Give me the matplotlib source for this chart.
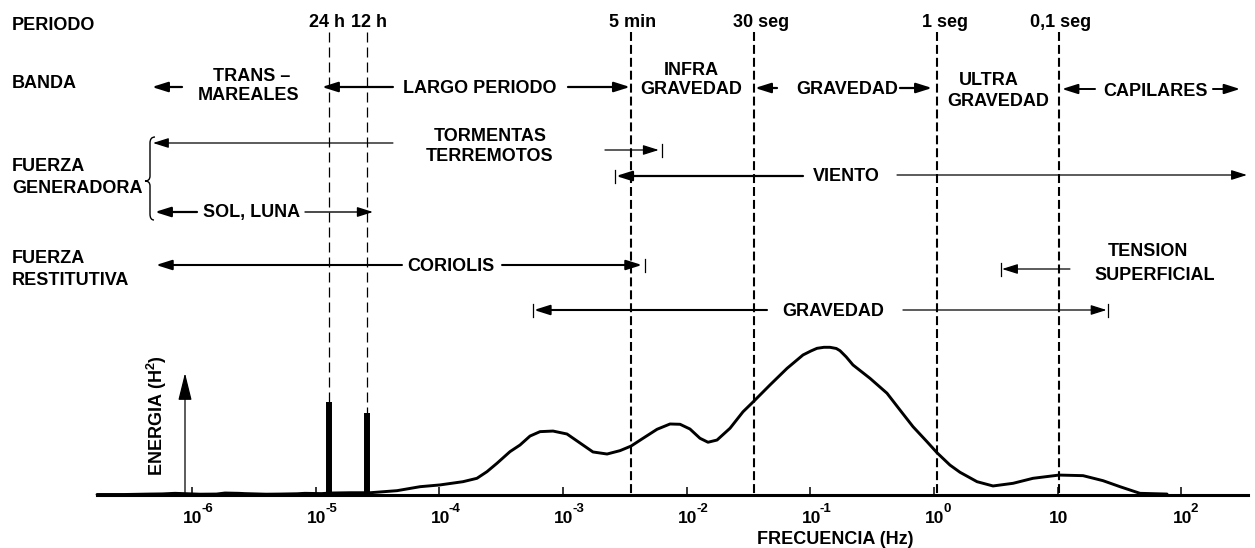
import numpy as np
import matplotlib
matplotlib.use("Agg")
import matplotlib.pyplot as plt
from matplotlib.patches import FancyArrowPatch, PathPatch
from matplotlib.path import Path
from matplotlib.ticker import NullLocator

plt.rcParams['font.family'] = ['Liberation Sans', 'DejaVu Sans']
plt.rcParams['font.weight'] = 'bold'
plt.rcParams['mathtext.fontset'] = 'custom'
plt.rcParams['mathtext.rm'] = 'Liberation Sans:bold'
plt.rcParams['mathtext.bf'] = 'Liberation Sans:bold'
plt.rcParams['mathtext.it'] = 'Liberation Sans:bold'
plt.rcParams['mathtext.default'] = 'rm'

# ---------------- datos ----------------
# periodos de referencia (lineas verticales) y su frecuencia en Hz
periodos = ["24 h", "12 h", "5 min", "30 seg", "1 seg", "0,1 seg"]
f_periodos = [1.28e-5, 2.62e-5, 3.55e-3, 3.5e-2, 1.06, 10.2]

# espectro de energia: log10 de la frecuencia (Hz) y energia relativa
log_f_espectro = [-6.766, -6.54, -6.338, -6.24, -6.136, -6.0, -5.934, -5.80,
                  -5.732, -5.62, -5.57, -5.40, -5.287, -5.15, -5.085, -4.95,
                  -4.883, -4.72, -4.559, -4.341, -4.155, -3.994, -3.808,
                  -3.695, -3.614, -3.533, -3.428, -3.347, -3.266, -3.185,
                  -3.080, -2.967, -2.862, -2.757, -2.643, -2.538, -2.449,
                  -2.352, -2.239, -2.134, -2.053, -1.973, -1.892, -1.827,
                  -1.754, -1.649, -1.544, -1.455, -1.326, -1.188, -1.059,
                  -0.995, -0.946, -0.890, -0.841, -0.790, -0.760, -0.710,
                  -0.655, -0.517, -0.380, -0.275, -0.170, -0.057, 0.024,
                  0.129, 0.210, 0.348, 0.477, 0.639, 0.800, 1.011, 1.205,
                  1.366, 1.504, 1.665, 1.884]
energia_espectro = [0.0, 0.0, 0.003, 0.004, 0.008, 0.004, 0.002, 0.003,
                    0.010, 0.008, 0.006, 0.002, 0.003, 0.005, 0.008, 0.006,
                    0.010, 0.012, 0.012, 0.026, 0.053, 0.065, 0.087, 0.110,
                    0.155, 0.212, 0.291, 0.336, 0.397, 0.427, 0.431, 0.411,
                    0.350, 0.289, 0.275, 0.298, 0.329, 0.382, 0.443, 0.479,
                    0.477, 0.445, 0.382, 0.355, 0.370, 0.450, 0.562, 0.635,
                    0.744, 0.857, 0.948, 0.975, 0.993, 1.000, 1.000, 0.992,
                    0.977, 0.935, 0.880, 0.789, 0.688, 0.574, 0.461, 0.359,
                    0.284, 0.200, 0.151, 0.087, 0.058, 0.076, 0.110, 0.132,
                    0.128, 0.094, 0.053, 0.008, 0.003]

# lineas de marea diurna y semidiurna
f_mareas = [1.28e-5, 2.62e-5]
energia_mareas = [0.628, 0.554]

# eje de frecuencias: potencias de diez y su exponente escrito
ticks_exp = [-6, -5, -4, -3, -2, -1, 0, 1, 2]
ticks_exponente = ["-6", "-5", "-4", "-3", "-2", "-1", "0", "", "2"]

# ---------------- figura ----------------
W, H = 1255, 548
fig = plt.figure(figsize=(W / 100, H / 100), dpi=100)
fig.patch.set_facecolor('white')

XLIM = (10 ** -7.5506, 10 ** 2.595)
BASE = 494.5          # fila de la linea base
ESC = 147.2           # pixeles por unidad de energia

# capa de anotaciones: x logaritmico, y en filas
ax = fig.add_axes([0, 0, 1, 1])
ax.set_xscale('log')
ax.set_xlim(XLIM)
ax.set_ylim(H, 0)
ax.axis('off')

# capa de maquetacion en pixeles
lay = fig.add_axes([0, 0, 1, 1])
lay.set_xlim(0, W)
lay.set_ylim(H, 0)
lay.axis('off')

# espectro
sp = fig.add_axes([0, (H - BASE) / H, 1, (BASE - 340) / H], sharex=ax)
sp.set_facecolor('none')
sp.set_ylim(0, (BASE - 340) / ESC)
for s in ('top', 'right', 'left'):
    sp.spines[s].set_visible(False)
sp.spines['bottom'].set_linewidth(2.2)
sp.spines['bottom'].set_bounds(10 ** -6.766, 10 ** 2.538)
sp.set_xticks([10.0 ** e for e in ticks_exp])
sp.xaxis.set_minor_locator(NullLocator())
sp.tick_params(axis='x', direction='in', length=5.8, width=1.1,
               labelbottom=False)
sp.set_yticks([])

F = lambda l: 10.0 ** l
TXT = dict(fontsize=13, fontweight='bold', color='k')


def flecha(y, l_cola, l_punta, lw=1.4):
    ax.add_patch(FancyArrowPatch((F(l_cola), y), (F(l_punta), y),
                                 arrowstyle='-|>,head_length=0.95,head_width=0.3',
                                 mutation_scale=10, lw=lw, color='k',
                                 shrinkA=0, shrinkB=0, zorder=3))


def tope(y, l, h=6.5):
    ax.plot([F(l), F(l)], [y - h, y + h], color='k', lw=0.9)


def texto(l, y, s):
    ax.text(F(l), y, s, ha='center', va='baseline', **TXT)


# lineas verticales de periodo
dx_periodos = [-1.5, 1.5, 1.5, 5.0, 6.0, 1.5]
for i, (p, f) in enumerate(zip(periodos, f_periodos)):
    fino = i < 2
    ax.plot([f, f], [32, BASE], color='k',
            lw=0.9 if fino else 1.5,
            linestyle=(0, (8, 4)) if fino else (0, (4.3, 1.9)), zorder=1)
    ax.annotate(p, xy=(f, 27), xytext=(dx_periodos[i], 0),
                textcoords='offset points', ha='center', va='baseline', **TXT)

# rotulos de la izquierda
for s, y in [("PERIODO", 29.5), ("BANDA", 88.5), ("FUERZA", 171),
             ("GENERADORA", 193), ("FUERZA", 263), ("RESTITUTIVA", 285)]:
    lay.text(12, y, s, ha='left', va='baseline', **TXT)

# llave de fuerza generadora
llave = Path([(155, 137), (150, 137), (150, 143), (150, 176), (150, 181),
              (145, 181), (150, 181), (150, 186), (150, 214), (150, 220),
              (154, 220)],
             [Path.MOVETO, Path.CURVE3, Path.CURVE3, Path.LINETO, Path.CURVE3,
              Path.CURVE3, Path.CURVE3, Path.CURVE3, Path.LINETO, Path.CURVE3,
              Path.CURVE3])
lay.add_patch(PathPatch(llave, fill=False, lw=1.0, color='k'))

# ---- bandas ----
flecha(87, -6.079, -6.322, lw=1.6)
texto(-5.513, 81, "TRANS \u2013")
texto(-5.540, 100, "MAREALES")
flecha(87, -4.374, -4.948, lw=1.6)
texto(-3.670, 93, "LARGO PERIODO")
flecha(87, -2.959, -2.458, lw=1.6)
texto(-1.964, 75, "INFRA")
texto(-1.964, 94, "GRAVEDAD")
flecha(88, -1.269, -1.447, lw=1.6)
texto(-0.703, 94, "GRAVEDAD")
flecha(88, -0.275, -0.016, lw=1.6)
texto(0.445, 85, "ULTRA")
texto(0.517, 106, "GRAVEDAD")
flecha(89, 1.302, 1.035, lw=1.4)
texto(1.787, 96, "CAPILARES")
flecha(89, 2.255, 2.474, lw=1.4)

# ---- fuerza generadora ----
flecha(143, -4.374, -6.314, lw=0.9)
texto(-3.589, 141, "TORMENTAS")
texto(-3.589, 161, "TERREMOTOS")
flecha(150, -2.660, -2.225, lw=0.9)
tope(150, -2.199)

tope(176, -2.579)
flecha(176, -1.059, -2.570, lw=1.6)
texto(-0.711, 181, "VIENTO")
flecha(175, -0.299, 2.530, lw=0.9)

flecha(212, -5.958, -6.298, lw=1.6)
texto(-5.513, 217, "SOL, LUNA")
flecha(212, -5.085, -4.535, lw=1.0)

# ---- fuerza restitutiva ----
flecha(265, -4.301, -6.289, lw=1.5)
texto(-3.905, 271, "CORIOLIS")
flecha(265, -3.492, -2.361, lw=1.5)
tope(265, -2.336)

tope(269, 0.542)
flecha(269, 1.099, 0.550, lw=0.9)
texto(1.730, 256, "TENSION")
texto(1.787, 280, "SUPERFICIAL")

tope(310, -3.242)
flecha(310, -1.350, -3.234, lw=1.5)
texto(-0.817, 316, "GRAVEDAD")
flecha(310, -0.251, 1.395, lw=0.9)
tope(310, 1.407)

# ---- espectro ----
sp.plot(10.0 ** np.array(log_f_espectro), energia_espectro, color='k',
        lw=2.1, solid_joinstyle='round', solid_capstyle='round',
        clip_on=False)
sp.vlines(f_mareas, 0, energia_mareas, color='k', lw=4.3,
          capstyle='butt')

# flecha del eje de energia
lay.add_patch(FancyArrowPatch((185, BASE), (185, 373),
                              arrowstyle='-|>,head_length=1.7,head_width=0.42',
                              mutation_scale=10, lw=0.9, color='k',
                              shrinkA=0, shrinkB=0))
lay.text(157, 416, "ENERGIA (H$^{2}$)", rotation=90, ha='center',
         va='center', **TXT)

# etiquetas del eje de frecuencia: base "10" y exponente elevado
for e, sup in zip(ticks_exp, ticks_exponente):
    ax.annotate("10", xy=(F(e), 523), xytext=(-6.3, 0),
                textcoords='offset points', ha='left', va='baseline',
                fontsize=12.5, fontweight='bold')
    if sup:
        ax.annotate(sup, xy=(F(e), 523), xytext=(6.9, 8.0),
                    textcoords='offset points', ha='left', va='baseline',
                    fontsize=9.5, fontweight='bold')
lay.text(835, 544, "FRECUENCIA (Hz)", ha='center', va='baseline', **TXT)

fig.savefig("out.png", dpi=100, facecolor='white')
